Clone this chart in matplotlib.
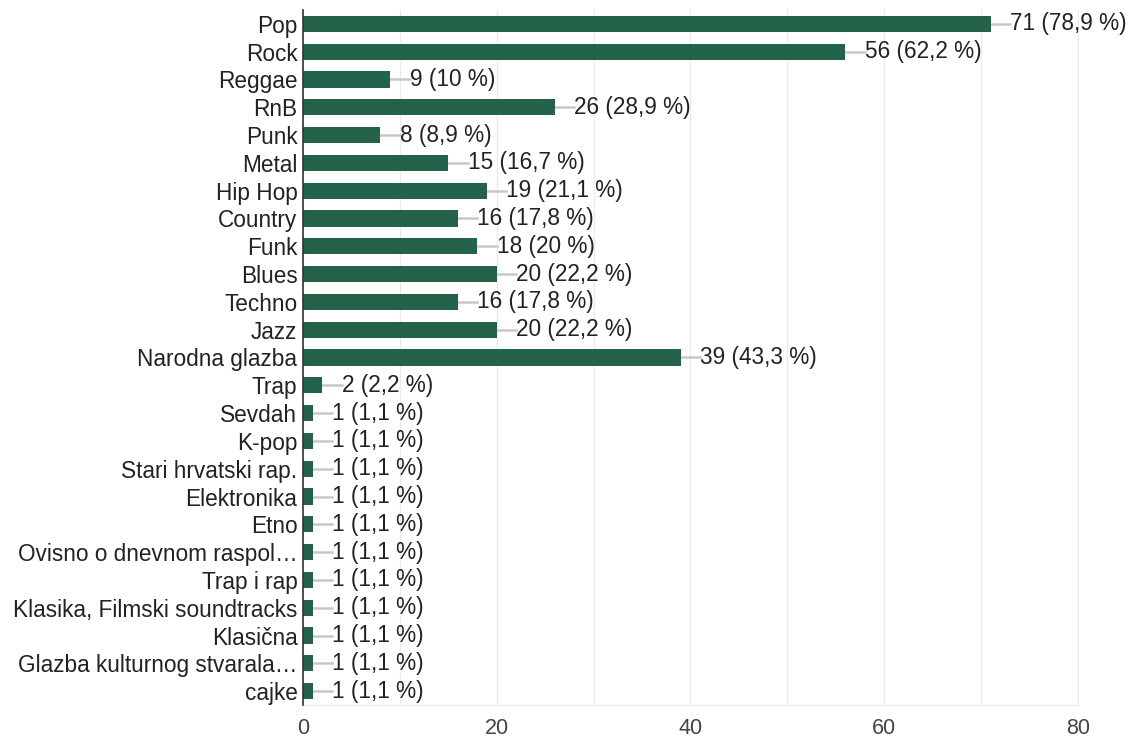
import matplotlib.pyplot as plt
import numpy as np

plt.rcParams['font.family'] = ['Liberation Sans', 'DejaVu Sans']

categories = ['Pop', 'Rock', 'Reggae', 'RnB', 'Punk', 'Metal', 'Hip Hop', 'Country',
              'Funk', 'Blues', 'Techno', 'Jazz', 'Narodna glazba', 'Trap', 'Sevdah',
              'K-pop', 'Stari hrvatski rap.', 'Elektronika', 'Etno',
              'Ovisno o dnevnom raspol…', 'Trap i rap', 'Klasika, Filmski soundtracks',
              'Klasična', 'Glazba kulturnog stvarala…', 'cajke']
counts = [71, 56, 9, 26, 8, 15, 19, 16, 18, 20, 16, 20, 39, 2, 1, 1, 1, 1, 1, 1, 1, 1, 1, 1, 1]
percents = ['78,9', '62,2', '10', '28,9', '8,9', '16,7', '21,1', '17,8', '20', '22,2',
            '17,8', '22,2', '43,3', '2,2', '1,1', '1,1', '1,1', '1,1', '1,1', '1,1',
            '1,1', '1,1', '1,1', '1,1', '1,1']
xticks = [0, 20, 40, 60, 80]

fig = plt.figure(figsize=(11.36, 7.44), dpi=100)
ax = fig.add_axes([0.2667, 0.0524, 0.9489 - 0.2667, 0.9866 - 0.0524])

y = np.arange(len(categories))
ax.barh(y, counts, height=0.58, color='#246349', zorder=3)

for yi, c, p in zip(y, counts, percents):
    ax.plot([c, c + 2.0], [yi, yi], color='#c8c8c8', lw=1.8, zorder=2)
    ax.text(c + 2.0, yi, f'{c} ({p} %)', va='center', ha='left',
            fontsize=16.3, color='#222222', zorder=4)

ax.set_xlim(0, 80)
ax.set_ylim(len(categories) - 0.5, -0.5)
ax.set_yticks(y)
ax.set_yticklabels(categories, fontsize=16.3, color='#222222')
ax.set_xticks(xticks)
ax.set_xticklabels([str(t) for t in xticks], fontsize=15.5, color='#444444')
ax.set_xticks(np.arange(0, 81, 10), minor=True)
ax.grid(True, axis='x', which='both', color='#ebebeb', lw=1, zorder=0)
ax.tick_params(axis='both', which='both', length=0, pad=4)
ax.tick_params(axis='x', pad=9)

ax.spines['top'].set_visible(False)
ax.spines['bottom'].set_color('#ebebeb')
ax.spines['right'].set_color('#ebebeb')
ax.spines['left'].set_color('#333333')
ax.spines['left'].set_linewidth(1.2)
ax.spines['left'].set_zorder(5)

fig.savefig('out.png', dpi=100)
